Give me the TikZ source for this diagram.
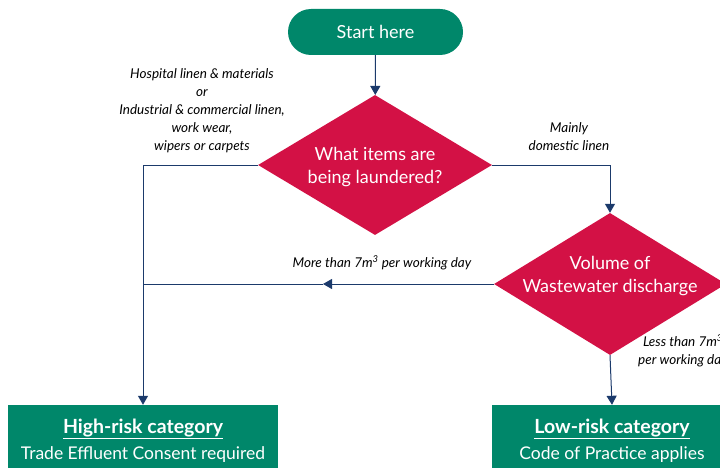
\documentclass[tikz,border=0pt]{standalone}
\usepackage{fontspec}
\setmainfont{Lato}
\usetikzlibrary{shapes.geometric,arrows.meta}
\definecolor{teal}{HTML}{00876A}
\definecolor{crimson}{HTML}{D31145}
\definecolor{navy}{HTML}{1B3A6B}
\begin{document}
\begin{tikzpicture}[x=1pt,y=-1pt,
  startbox/.style={rounded corners=23pt,fill=teal,text=white,minimum width=175pt,minimum height=46pt,inner sep=0pt,font=\fontsize{18}{21}\selectfont},
  decision/.style={diamond,fill=crimson,inner sep=0pt},
  dtext/.style={text=white,inner sep=0pt,align=center,font=\fontsize{18}{23}\selectfont},
  result/.style={fill=teal,text=white,inner sep=0pt,align=center,font=\fontsize{17.5}{26}\selectfont},
  restitle/.style={font=\fontsize{19.5}{26}\selectfont\bfseries},
  flow/.style={draw=navy,line width=1pt,-{Triangle[length=9pt,width=10pt]}},
  plain/.style={draw=navy,line width=1pt},
  lbl/.style={align=center,font=\fontsize{13.5}{18}\selectfont\itshape,inner sep=0pt}]
\useasboundingbox (0,0) rectangle (720,468);
\clip (0,0) rectangle (720,468);

% nodes
\node[startbox] (start) at (375.5,32) {Start here};
\node[decision,minimum width=234pt,minimum height=140pt] (items) at (375,165) {};
\node[dtext] (itemstext) at (375,167) {What items are\\being laundered?};
\node[decision,minimum width=232pt,minimum height=142pt] (volume) at (610,284) {};
\node[dtext] (volumetext) at (610,276) {Volume of\\Wastewater discharge};
\node[result,minimum width=270pt,minimum height=66pt] (high) at (143,438) {};
\node[result] (hightext) at (143,441) {{\fontsize{19.5}{26}\selectfont\bfseries\underline{High-risk category}}\\Trade Effluent Consent required};
\node[result,minimum width=240pt,minimum height=66pt] (low) at (612,438) {};
\node[result] (lowtext) at (612,441) {{\fontsize{19.5}{26}\selectfont\bfseries\underline{Low-risk category}}\\Code of Practice applies};

% corner points of the connectors
\coordinate (lc) at (143,165);
\coordinate (rc) at (610,165);
\coordinate (mid) at (323,284);
\coordinate (join) at (143,284);

% connectors
\draw[flow] (start) -- (items);
\draw[flow] (items.west) -- (lc) -- (high.north);
\draw[flow] (items.east) -- (rc) -- (volume.north);
\draw[flow] (volume.west) -- (mid);
\draw[plain] (mid) -- (join);
\draw[flow] (volume.south) -- (low.north);

% connector labels
\node[lbl] (l1) at (202,111) {Hospital linen \& materials\\or\\Industrial \& commercial linen,\\work wear,\\wipers or carpets};
\node[lbl] (l2) at (569,137) {Mainly\\domestic linen};
\node[lbl] (l3) at (382,263) {More than 7m\textsuperscript{3} per working day};
\node[lbl,anchor=west] (l4) at (638,351) {Less than 7m\textsuperscript{3}\\per working day};
\end{tikzpicture}
\end{document}
